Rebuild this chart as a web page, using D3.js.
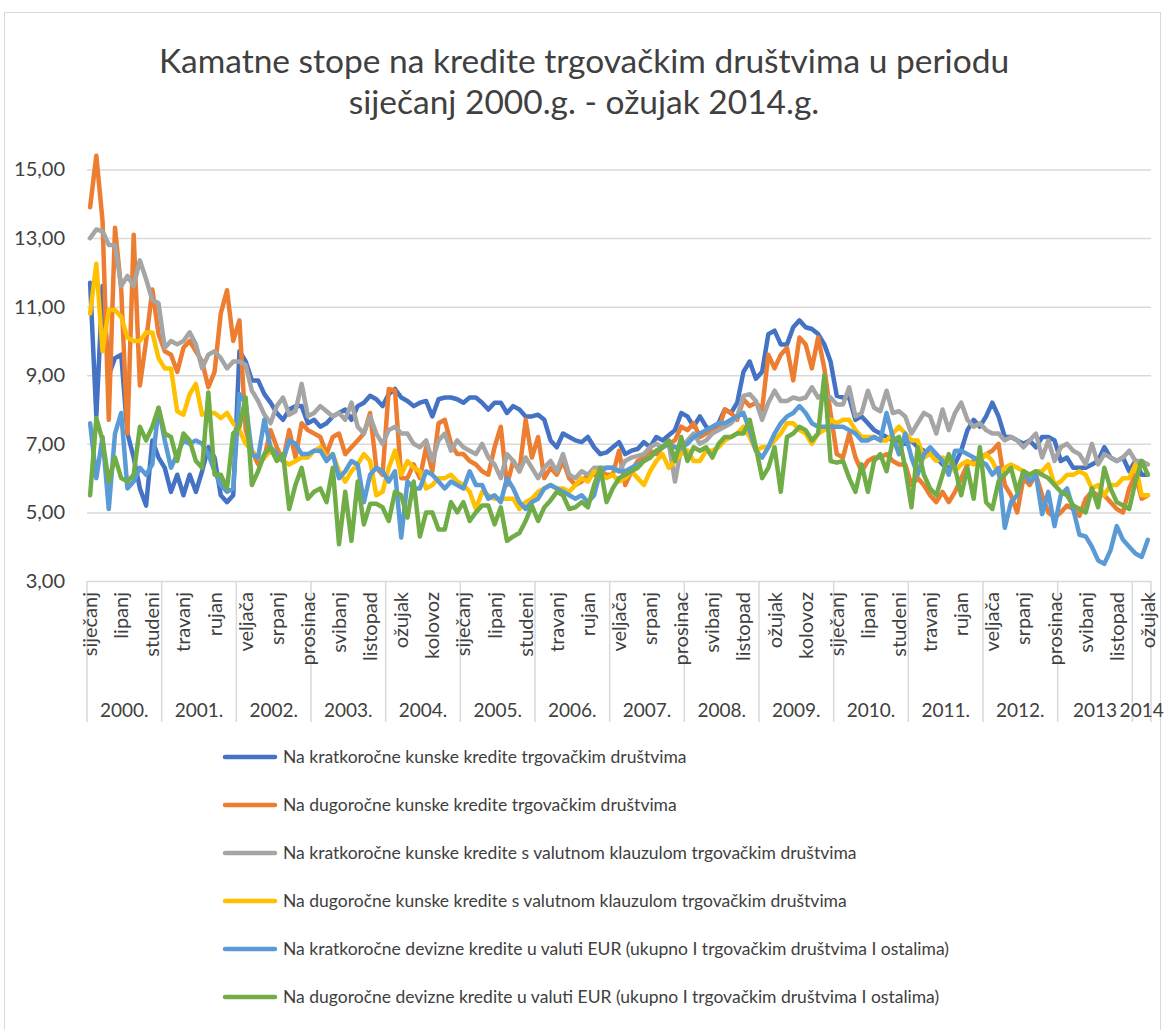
<!DOCTYPE html>
<html>
<head>
<meta charset="utf-8">
<script src="https://cdn.jsdelivr.net/npm/d3@7"></script>
<style>
  body { margin: 0; background: #fff; }
  svg { display: block; }
  text { font-family: Lato, "Open Sans", sans-serif; fill: #404040; }
</style>
</head>
<body>
<script>

// month names and year groups on the category axis
var monthNames = ["siječanj", "veljača", "ožujak", "travanj", "svibanj", "lipanj",
    "srpanj", "kolovoz", "rujan", "listopad", "studeni", "prosinac"];
var years = ["2000.", "2001.", "2002.", "2003.", "2004.", "2005.", "2006.", "2007.",
    "2008.", "2009.", "2010.", "2011.", "2012.", "2013", "2014"];
var monthsInYear = [12, 12, 12, 12, 12, 12, 12, 12, 12, 12, 12, 12, 12, 12, 3];

var yTicks = [3, 5, 7, 9, 11, 13, 15];

// series, one value per month (Jan 2000 .. Mar 2014)
var kratkoKunske = [
    11.7, 7.8, 11.6, 9.0, 9.5, 9.6, 7.3, 6.6, 5.7, 5.2, 7.1, 6.6,
    6.3, 5.6, 6.1, 5.5, 6.1, 5.6, 6.2, 6.9, 6.6, 5.5, 5.3, 5.5,
    9.7, 9.4, 8.85, 8.85, 8.45, 8.2, 7.9, 7.7, 8.0, 8.1, 8.1, 7.6,
    7.7, 7.5, 7.6, 7.8, 7.9, 8.0, 7.7, 8.1, 8.2, 8.4, 8.3, 8.1,
    8.45, 8.6, 8.35, 8.25, 8.1, 8.2, 8.25, 7.8, 8.3, 8.35, 8.35, 8.3,
    8.2, 8.35, 8.35, 8.2, 8.0, 8.2, 8.2, 7.9, 8.1, 8.0, 7.8, 7.8,
    7.85, 7.7, 7.1, 6.9, 7.3, 7.2, 7.1, 7.05, 7.2, 6.9, 6.7, 6.75,
    6.9, 7.05, 6.7, 6.8, 6.85, 7.05, 6.9, 7.2, 7.1, 7.25, 7.4, 7.9,
    7.8, 7.5, 7.8, 7.5, 7.4, 7.6, 8.0, 7.9, 8.2, 9.1, 9.4, 8.9,
    9.1, 10.2, 10.3, 9.9, 9.9, 10.4, 10.6, 10.4, 10.35, 10.2, 9.9, 9.4,
    8.4, 8.35, 8.35, 7.7, 7.8, 7.6, 7.4, 7.3, 7.2, 7.1, 7.1, 7.0,
    7.1, 6.9, 6.8, 6.7, 6.6, 6.4, 6.3, 6.4, 6.8, 7.4, 7.7, 7.5,
    7.8, 8.2, 7.8, 7.2, 7.2, 7.1, 7.0, 7.1, 6.9, 7.2, 7.2, 7.1,
    6.5, 6.6, 6.3, 6.3, 6.3, 6.4, 6.5, 6.9, 6.6, 6.5, 6.6, 6.2,
    6.5, 6.1, 6.1
];

var dugoKunske = [
    13.9, 15.4, 13.5, 7.7, 13.3, 11.5, 7.3, 13.1, 8.7, 10.0, 11.5, 10.2,
    9.7, 9.6, 9.1, 9.8, 10.0, 9.7, 9.4, 8.65, 9.1, 10.8, 11.48, 10.0,
    10.6, 7.4, 6.8, 6.4, 6.6, 7.4, 6.9, 6.5, 7.4, 6.6, 7.6, 7.4,
    7.3, 7.2, 6.7, 7.2, 7.3, 6.7, 6.9, 7.1, 7.3, 7.9, 6.3, 6.1,
    8.6, 8.55, 6.0, 6.0, 6.4, 6.0, 6.9, 6.2, 7.6, 7.7, 7.0, 6.7,
    6.7, 6.5, 6.4, 6.2, 6.1, 6.9, 7.5, 5.8, 6.5, 6.2, 7.7, 6.6,
    7.2, 6.0, 6.3, 6.1, 6.5, 6.0, 5.8, 5.9, 6.1, 6.1, 6.2, 6.1,
    6.1, 6.8, 5.8, 6.2, 6.5, 6.6, 6.8, 6.7, 6.9, 7.0, 7.1, 7.5,
    7.4, 7.6, 7.2, 7.3, 7.4, 7.4, 8.0, 7.9, 7.7, 8.3, 8.1, 8.2,
    8.0, 9.6, 9.2, 9.6, 9.8, 8.85, 10.1, 9.9, 9.2, 10.1, 9.2, 7.9,
    6.7, 6.6, 7.3, 6.6, 6.2, 6.5, 6.6, 6.6, 6.7, 6.5, 6.4, 6.4,
    5.8, 6.0, 5.8, 5.5, 5.3, 5.6, 5.3, 5.6, 6.0, 6.4, 6.5, 6.6,
    6.7, 6.8, 7.0, 5.8, 5.5, 5.0, 6.0, 5.8, 6.1, 5.5, 5.0, 4.85,
    5.0, 5.2, 5.1, 4.9, 5.4, 5.6, 5.5, 5.5, 5.3, 5.1, 5.0, 5.7,
    6.1, 5.4, 5.5
];

var kratkoKlauzula = [
    13.0, 13.25, 13.2, 12.8, 12.8, 11.6, 11.9, 11.6, 12.35, 11.8, 11.2, 11.1,
    9.8, 10.0, 9.9, 10.0, 10.25, 9.9, 9.2, 9.6, 9.7, 9.5, 9.2, 9.4,
    9.4, 9.3, 8.55, 8.25, 7.85, 7.6, 8.1, 8.35, 7.85, 7.95, 8.75, 7.8,
    7.9, 8.1, 7.95, 7.8, 7.9, 7.7, 8.2, 7.5, 7.3, 7.8, 7.3, 7.0,
    7.4, 7.5, 7.3, 7.3, 7.0, 6.9, 7.1, 6.5, 7.1, 7.3, 6.8, 7.1,
    6.9, 6.8, 6.7, 7.0, 6.6, 6.4, 6.0, 6.7, 6.5, 6.2, 6.6, 6.3,
    6.0, 6.3, 6.5, 6.2, 6.7, 6.1, 6.0, 6.2, 6.1, 6.3, 6.3, 6.3,
    6.3, 6.2, 6.5, 6.6, 6.65, 6.7, 6.9, 7.0, 6.9, 7.0, 5.9, 6.9,
    7.1, 7.3, 7.0, 7.1, 7.3, 7.4, 7.5, 7.6, 7.8, 8.4, 8.45, 8.25,
    7.7, 8.2, 8.55, 8.25, 8.25, 8.35, 8.3, 8.35, 8.65, 8.35, 8.45, 8.35,
    8.15, 8.15, 8.65, 7.8, 7.9, 8.55, 8.05, 7.95, 8.55, 7.9, 7.95, 7.8,
    7.3, 7.6, 7.9, 7.8, 7.3, 8.0, 7.4, 7.9, 8.2, 7.7, 7.5, 7.6,
    7.4, 7.3, 7.3, 7.1, 7.2, 7.1, 6.9, 7.1, 7.3, 6.6, 7.1, 6.5,
    6.9, 7.0, 6.8, 6.7, 6.4, 7.0, 6.4, 6.7, 6.6, 6.5, 6.6, 6.8,
    6.5, 6.5, 6.4
];

var dugoKlauzula = [
    10.8, 12.25, 9.7, 10.9, 10.9, 10.7, 10.1, 10.0, 10.0, 10.25, 10.25, 9.5,
    9.2, 9.2, 7.95, 7.85, 8.45, 8.75, 7.85, 7.9, 7.9, 7.75, 7.9, 7.6,
    7.4, 7.0, 6.8, 6.6, 6.6, 6.8, 6.6, 6.5, 6.4, 6.5, 6.6, 6.6,
    6.8, 6.9, 6.6, 6.7, 6.2, 5.9, 6.2, 6.4, 6.7, 6.5, 5.5, 5.6,
    6.3, 6.8, 6.1, 6.5, 6.3, 6.2, 5.7, 5.8, 6.0, 6.0, 6.1, 5.9,
    5.8, 5.6, 5.1, 5.6, 5.5, 5.4, 5.4, 5.4, 5.4, 5.1, 5.3, 5.4,
    5.6, 5.7, 5.8, 5.7, 5.7, 5.6, 5.8, 6.0, 5.9, 6.2, 6.1, 6.0,
    6.1, 5.9, 6.0, 6.2, 6.0, 5.8, 6.2, 6.5, 6.7, 6.3, 6.5, 6.7,
    6.8, 6.5, 6.5, 6.8, 6.8, 6.9, 7.1, 7.2, 7.3, 7.5, 7.2, 6.8,
    6.9, 6.9, 7.1, 7.3, 7.6, 7.6, 7.4, 7.3, 7.0, 7.3, 7.4, 7.7,
    7.6, 7.7, 7.7, 7.4, 7.2, 7.2, 7.2, 7.1, 7.1, 7.3, 7.5, 7.3,
    7.1, 7.1, 6.6, 6.7, 6.5, 6.6, 6.5, 6.2, 6.4, 6.5, 6.4, 6.5,
    6.7, 6.5, 6.1, 6.3, 6.4, 6.3, 6.2, 6.1, 6.2, 6.2, 6.4, 5.8,
    5.9, 6.1, 6.1, 6.2, 6.1, 5.7, 5.8, 5.5, 5.8, 5.8, 6.0, 6.0,
    6.4, 5.5, 5.5
];

var kratkoDevizne = [
    7.6, 6.0, 7.2, 5.1, 7.3, 7.9, 5.7, 5.9, 6.3, 6.1, 6.4, 8.05,
    7.1, 6.3, 6.7, 7.1, 7.0, 7.1, 7.0, 6.7, 6.2, 5.8, 5.6, 5.7,
    8.45, 8.2, 6.7, 6.6, 7.7, 6.9, 6.7, 6.5, 7.1, 7.0, 6.7, 6.7,
    6.8, 6.8, 6.5, 6.7, 6.0, 6.2, 6.5, 6.4, 5.3, 6.1, 6.3, 6.2,
    5.9, 6.2, 4.27, 5.9, 5.7, 5.7, 6.2, 6.1, 5.9, 5.7, 5.9, 5.8,
    5.7, 6.2, 5.8, 5.8, 5.4, 5.5, 5.3, 6.0, 5.7, 5.3, 5.1, 5.3,
    5.4, 5.7, 5.8, 5.7, 5.6, 5.5, 5.4, 5.5, 5.3, 5.5, 6.2, 6.3,
    6.3, 6.2, 6.2, 6.3, 6.4, 6.5, 6.6, 6.8, 6.9, 7.0, 6.9, 6.9,
    7.0, 7.2, 7.3, 7.4, 7.5, 7.6, 7.6, 7.7, 7.8, 7.9, 7.4, 6.8,
    6.6, 6.9, 7.3, 7.6, 7.8, 7.9, 8.1, 7.9, 7.6, 7.5, 7.5, 7.5,
    7.5, 7.5, 7.4, 7.3, 7.1, 7.1, 7.2, 7.1, 7.9, 7.2, 6.7, 7.3,
    6.6, 6.1, 6.7, 6.9, 6.7, 6.5, 6.1, 6.8, 6.8, 6.7, 6.6, 6.5,
    6.4, 6.1, 6.3, 4.55, 5.3, 5.5, 6.2, 5.9, 6.1, 4.95, 5.6, 4.6,
    5.5, 5.7, 5.1, 4.35, 4.3, 4.0, 3.6, 3.5, 3.9, 4.6, 4.2, 4.0,
    3.8, 3.7, 4.2
];

var dugoDevizne = [
    5.5, 7.75, 7.1, 5.9, 6.6, 6.0, 5.9, 6.1, 7.5, 7.1, 7.5, 8.05,
    7.3, 7.2, 6.5, 7.3, 7.1, 6.5, 6.3, 8.5, 6.1, 6.1, 5.7, 7.3,
    7.5, 8.35, 5.8, 6.2, 6.7, 6.9, 6.5, 6.7, 5.1, 5.8, 6.3, 5.4,
    5.6, 5.7, 5.3, 6.3, 4.07, 5.6, 4.17, 5.9, 4.65, 5.25, 5.25, 5.15,
    4.75, 5.6, 5.5, 4.85, 5.9, 4.3, 5.0, 5.0, 4.5, 4.5, 5.3, 5.0,
    5.3, 4.75, 5.0, 5.2, 5.2, 4.65, 5.15, 4.17, 4.3, 4.4, 4.75, 5.2,
    4.75, 5.15, 5.35, 5.6, 5.5, 5.1, 5.15, 5.3, 5.15, 5.8, 6.3, 5.3,
    5.7, 6.0, 6.1, 6.2, 6.3, 6.5, 6.6, 6.8, 6.9, 7.1, 6.5, 7.2,
    6.5, 6.9, 6.8, 6.9, 6.6, 7.0, 7.2, 7.2, 7.3, 7.3, 7.7, 6.9,
    6.0, 6.3, 6.9, 5.6, 7.2, 7.3, 7.5, 7.4, 7.1, 7.3, 9.0, 6.5,
    6.45, 6.5, 6.0, 5.6, 6.4, 5.6, 6.5, 6.7, 6.2, 7.1, 7.2, 6.3,
    5.15, 6.9, 6.1, 5.7, 5.5, 6.1, 6.7, 6.3, 5.5, 6.3, 5.4, 6.9,
    5.3, 5.1, 5.9, 6.1, 6.3, 5.6, 6.2, 6.1, 6.2, 6.1, 6.0, 5.8,
    5.6, 5.5, 5.2, 5.1, 5.0, 5.7, 5.15, 6.3, 5.7, 5.3, 5.2, 5.1,
    5.9, 6.5, 6.1
];

var seriesNames = [
    "Na kratkoročne kunske kredite trgovačkim društvima",
    "Na dugoročne kunske kredite trgovačkim društvima",
    "Na kratkoročne kunske kredite s valutnom klauzulom trgovačkim društvima",
    "Na dugoročne kunske kredite s valutnom klauzulom trgovačkim društvima",
    "Na kratkoročne devizne kredite u valuti EUR (ukupno I trgovačkim društvima I ostalima)",
    "Na dugoročne devizne kredite  u valuti EUR (ukupno I trgovačkim društvima I ostalima)"
];
var seriesColors = ["#4472c4", "#ed7d31", "#a5a5a5", "#ffc000", "#5b9bd5", "#70ad47"];
var seriesValues = [kratkoKunske, dugoKunske, kratkoKlauzula, dugoKlauzula, kratkoDevizne, dugoDevizne];

var width = 1165, height = 1030;
var plot = { left: 87, right: 1151, top: 169.5, bottom: 581 };

// build the category list (one entry per month)
var categories = [];
years.forEach(function (yr, yi) {
    for (var m = 0; m < monthsInYear[yi]; m++) {
        categories.push({ year: yi, month: monthNames[m] });
    }
});

var svg = d3.select("body").append("svg")
    .attr("width", width)
    .attr("height", height);

// chart border
svg.append("rect")
    .attr("x", 4.5).attr("y", 12.5)
    .attr("width", 1156).attr("height", 1040)
    .attr("fill", "#fff")
    .attr("stroke", "#d9d9d9");

// title
var title = svg.append("text")
    .attr("text-anchor", "middle")
    .style("font-size", "33.5px")
    .style("font-weight", 400);
title.append("tspan").attr("x", 584).attr("y", 73)
    .text("Kamatne stope na kredite trgovačkim društvima u periodu");
title.append("tspan").attr("x", 584).attr("y", 114)
    .text("siječanj 2000.g. - ožujak 2014.g.");

var x = d3.scaleBand()
    .domain(d3.range(categories.length))
    .range([plot.left, plot.right])
    .padding(0);

var y = d3.scaleLinear()
    .domain([3, 15])
    .range([plot.bottom, plot.top]);

var fmt = function (d) { return d3.format(".2f")(d).replace(".", ","); };

// y axis + gridlines
var gY = svg.append("g")
    .attr("transform", "translate(" + plot.left + ",0)")
    .call(d3.axisLeft(y)
        .tickValues(yTicks)
        .tickSize(-(plot.right - plot.left))
        .tickPadding(22)
        .tickFormat(fmt));
gY.select(".domain").remove();
gY.selectAll("line").attr("stroke", "#d9d9d9").attr("stroke-width", 1.5);
gY.selectAll("text")
    .style("font-size", "20px")
    .style("font-family", "Lato, 'Open Sans', sans-serif")
    .attr("fill", "#404040");

// year separators below the axis
var bounds = [0];
monthsInYear.forEach(function (n) { bounds.push(bounds[bounds.length - 1] + n); });

svg.append("g").selectAll("line")
    .data(bounds)
    .enter().append("line")
    .attr("x1", function (d) { return d < categories.length ? x(d) : plot.right; })
    .attr("x2", function (d) { return d < categories.length ? x(d) : plot.right; })
    .attr("y1", plot.bottom)
    .attr("y2", 722)
    .attr("stroke", "#d9d9d9")
    .attr("stroke-width", 1.5);

// month labels, every 5th month
svg.append("g").selectAll("text")
    .data(categories.filter(function (d, i) { return i % 5 === 0; }))
    .enter().append("text")
    .attr("transform", function (d) {
        var i = categories.indexOf(d);
        return "translate(" + (x(i) + x.bandwidth() / 2 + 7) + ",592) rotate(-90)";
    })
    .attr("text-anchor", "end")
    .style("font-size", "20px")
    .text(function (d) { return d.month; });

// year labels
svg.append("g").selectAll("text")
    .data(years)
    .enter().append("text")
    .attr("x", function (d, i) {
        var x1 = x(bounds[i]);
        var x2 = bounds[i + 1] < categories.length ? x(bounds[i + 1]) : plot.right;
        return (x1 + x2) / 2;
    })
    .attr("y", 717)
    .attr("text-anchor", "middle")
    .style("font-size", "19px")
    .text(function (d) { return d; });

// lines
var line = d3.line()
    .x(function (d, i) { return x(i) + x.bandwidth() / 2; })
    .y(function (d) { return y(d); });

svg.append("g").selectAll("path")
    .data(seriesValues)
    .enter().append("path")
    .attr("d", line)
    .attr("fill", "none")
    .attr("stroke", function (d, i) { return seriesColors[i]; })
    .attr("stroke-width", 4.5)
    .attr("stroke-linejoin", "round")
    .attr("stroke-linecap", "round");

// legend
var legend = svg.append("g").selectAll("g")
    .data(seriesNames)
    .enter().append("g")
    .attr("transform", function (d, i) { return "translate(225," + (757 + i * 48) + ")"; });

legend.append("line")
    .attr("x1", 0).attr("x2", 50)
    .attr("stroke", function (d, i) { return seriesColors[i]; })
    .attr("stroke-width", 4.5)
    .attr("stroke-linecap", "round");

legend.append("text")
    .attr("x", 58)
    .attr("dy", "0.35em")
    .style("font-size", "17.5px")
    .text(function (d) { return d; });

</script>
</body>
</html>
